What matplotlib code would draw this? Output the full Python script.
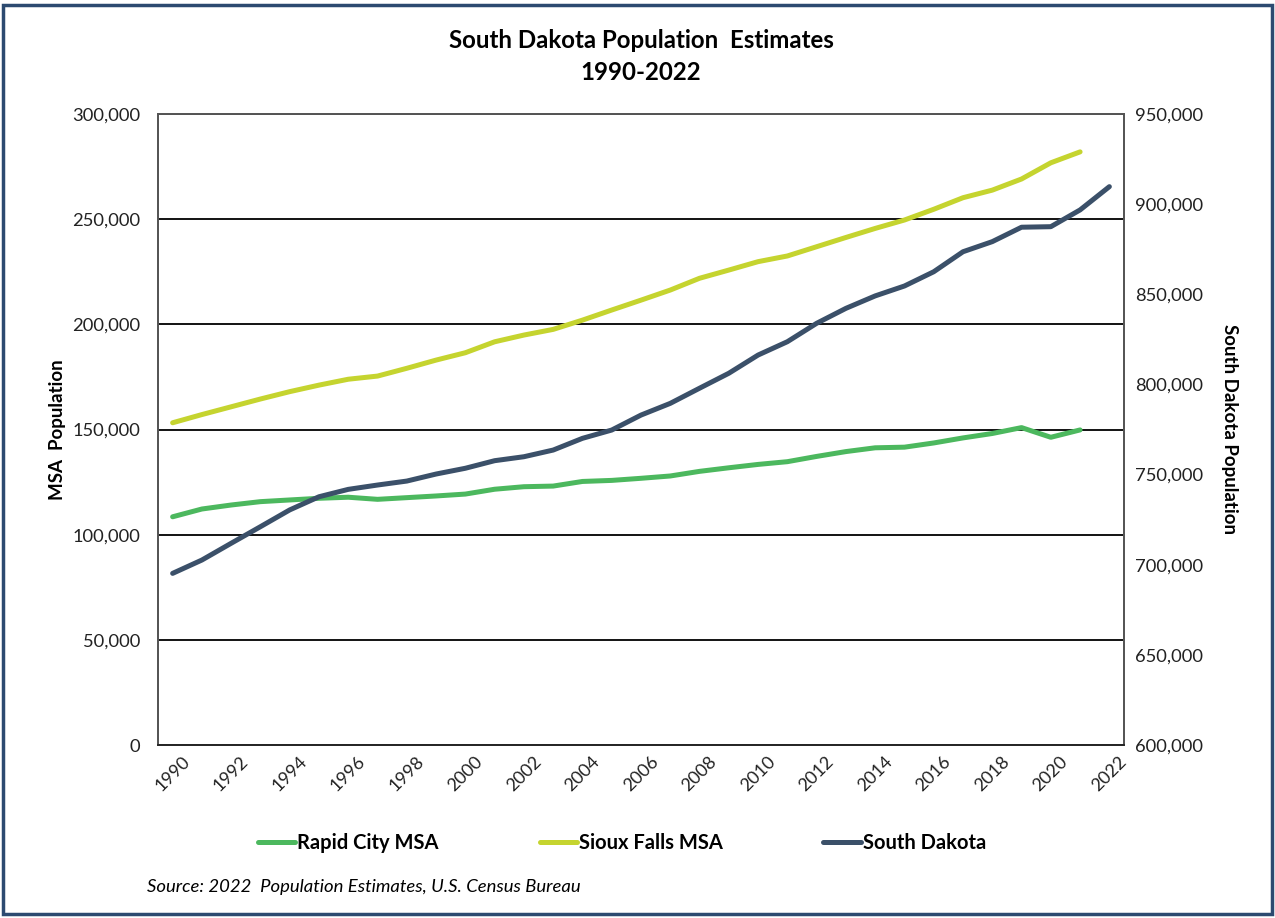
import matplotlib
matplotlib.use('Agg')
import matplotlib.pyplot as plt
from matplotlib.patches import Rectangle
from matplotlib.ticker import FuncFormatter, MultipleLocator

plt.rcParams['font.family'] = ['Lato', 'DejaVu Sans']

# data
years = list(range(1990, 2023))
rapid_city = [108500, 112200, 114100, 115700, 116500, 117300, 117800, 116800, 117600, 118400,
              119300, 121600, 122800, 123100, 125300, 125800, 126800, 127900, 130100, 131800,
              133400, 134700, 137200, 139500, 141300, 141600, 143600, 146000, 148100, 150900,
              146300, 149800]
sioux_falls = [153200, 157100, 160800, 164500, 168000, 171100, 173900, 175400, 179100, 183000,
               186500, 191700, 194900, 197600, 202000, 206800, 211500, 216300, 221900, 225800,
               229800, 232500, 236900, 241300, 245600, 249600, 254700, 260200, 263800, 269100,
               276800, 282000]
south_dakota = [695200, 702600, 711900, 721100, 730400, 737700, 741800, 744200, 746400, 750300,
                753500, 757700, 759900, 763600, 770100, 774700, 783000, 789500, 797900, 806200,
                816300, 823700, 833900, 842200, 849100, 854600, 862500, 873600, 879200, 887200,
                887500, 896800, 909700]

c_rapid = '#4cb85e'
c_sioux = '#c5d42f'
c_sd = '#3b5069'

fig = plt.figure(figsize=(12.75, 9.18), dpi=100)
ax = fig.add_axes([158 / 1275, 1 - 745 / 918, (1124 - 158) / 1275, (745 - 114) / 918])
ax2 = ax.twinx()

l1, = ax.plot(years[:len(rapid_city)], rapid_city, color=c_rapid, lw=3.6,
              solid_capstyle='round', label='Rapid City MSA')
l2, = ax.plot(years[:len(sioux_falls)], sioux_falls, color=c_sioux, lw=3.6,
              solid_capstyle='round', label='Sioux Falls MSA')
l3, = ax2.plot(years, south_dakota, color=c_sd, lw=3.6,
               solid_capstyle='round', label='South Dakota')

ax.set_xlim(1989.5, 2022.5)
ax.set_ylim(0, 300000)
ax2.set_ylim(600000, 950000)
ax.yaxis.set_major_locator(MultipleLocator(50000))
ax2.yaxis.set_major_locator(MultipleLocator(50000))
fmt = FuncFormatter(lambda v, p: '{:,.0f}'.format(v))
ax.yaxis.set_major_formatter(fmt)
ax2.yaxis.set_major_formatter(fmt)
ax.set_xticks(years[::2])
ax.set_xticklabels([str(y) for y in years[::2]], rotation=45, ha='center')

ax.grid(axis='y', color='black', lw=1.3)
ax.set_axisbelow(True)
ax.tick_params(axis='y', length=0, pad=13, labelsize=13.2, colors='#222222')
ax2.tick_params(axis='y', length=0, pad=8, labelsize=13.2, colors='#222222')
ax.tick_params(axis='x', length=0, pad=6, labelsize=13, colors='#222222')
for a in (ax, ax2):
    for s in a.spines.values():
        s.set_color('#555555')
        s.set_linewidth(1.3)
ax2.spines['bottom'].set_color('#222222')

ax.set_ylabel('MSA  Population', fontsize=13.5, fontweight='bold', labelpad=4)
ax2.set_ylabel('South Dakota Population', fontsize=13.5, fontweight='bold',
               rotation=-90, labelpad=25)

fig.text(641 / 1275, 1 - 40 / 918, 'South Dakota Population  Estimates', ha='center',
         va='center', fontsize=17.3, fontweight='bold')
fig.text(641 / 1275, 1 - 72 / 918, '1990-2022', ha='center', va='center',
         fontsize=17.3, fontweight='bold')

leg = fig.legend(handles=[l1, l2, l3], loc='center', bbox_to_anchor=(622 / 1275, 1 - 843 / 918),
                 ncol=3, frameon=False, handlelength=1.85, handletextpad=0.1,
                 columnspacing=5.0, prop={'weight': 'bold', 'size': 14.5})

fig.text(147 / 1275, 1 - 887 / 918, 'Source: 2022  Population Estimates, U.S. Census Bureau',
         ha='left', va='center', fontsize=13.3, style='italic')

fig.patches.append(Rectangle((3 / 1275, 4 / 918), 1 - 6 / 1275, 1 - 9 / 918,
                             transform=fig.transFigure, fill=False,
                             edgecolor='#2c4a70', lw=2.5))

fig.savefig('out.png', dpi=100)
